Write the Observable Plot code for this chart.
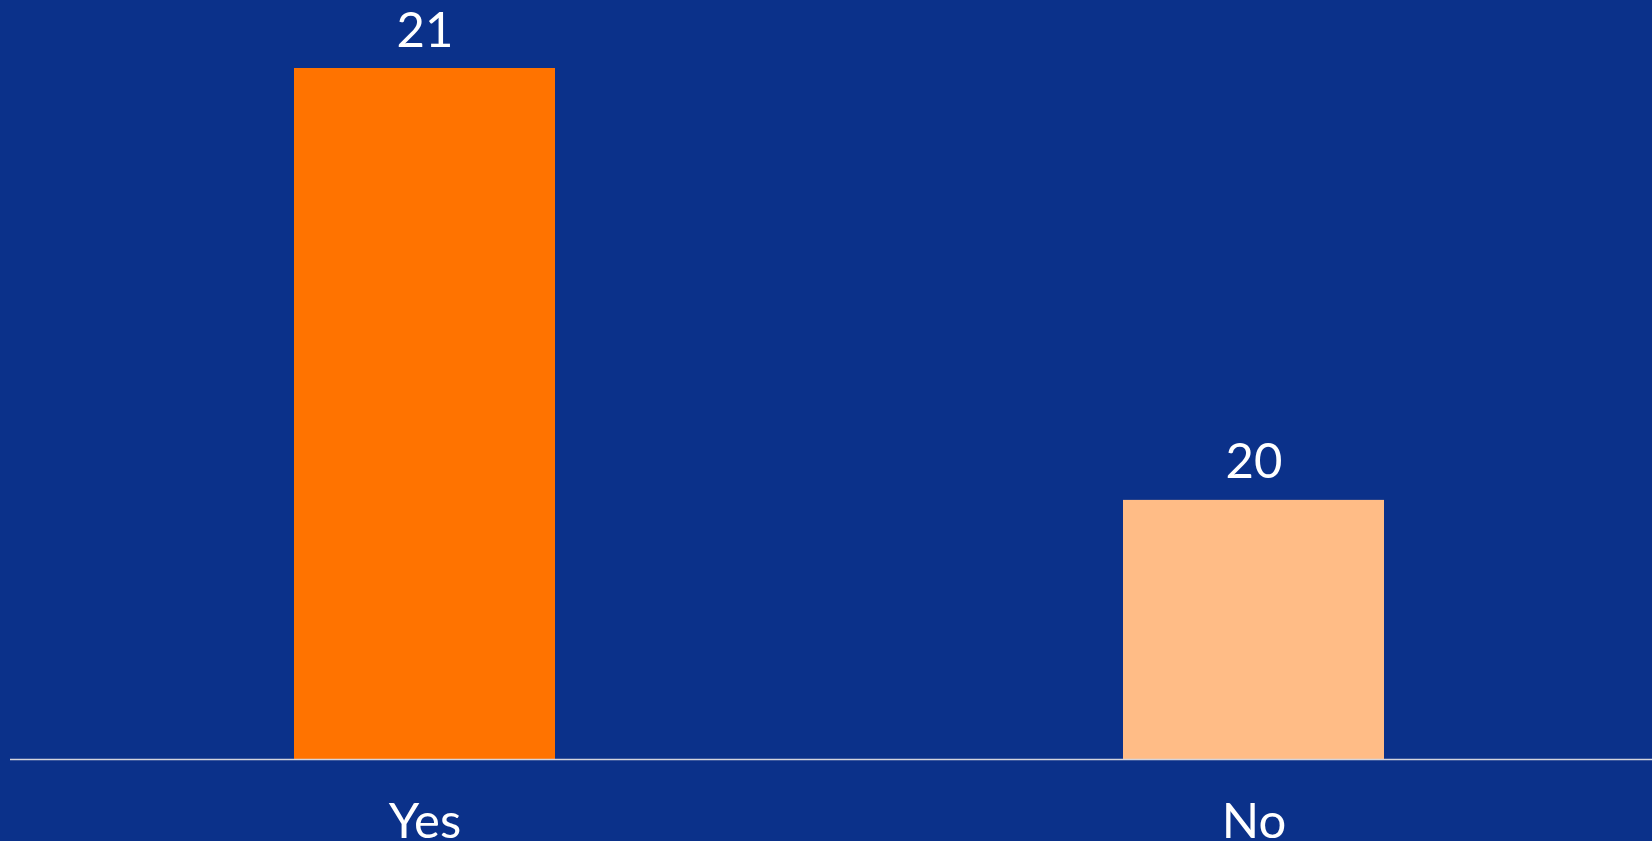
<!DOCTYPE html>
<html>
<head>
<meta charset="utf-8">
<script src="https://cdn.jsdelivr.net/npm/d3@7"></script>
<script src="https://cdn.jsdelivr.net/npm/@observablehq/plot@0.6"></script>
<style>
  html, body { margin: 0; padding: 0; background: #0B318A; overflow: hidden; }
  #chart svg { display: block; }
</style>
</head>
<body>
<div id="chart"></div>
<script>
const categories = ["Yes", "No"];
const values = [21, 20];
const colors = ["#FF7300", "#FFBC86"];
const yMin = 19.4;
const yMax = 21;

const data = categories.map((c, i) => ({ category: c, value: values[i], color: colors[i] }));

const chart = Plot.plot({
  width: 1652,
  height: 841,
  marginLeft: 10,
  marginRight: -17,
  marginTop: 68,
  marginBottom: 82,
  style: { background: "#0B318A", color: "#FFFFFF", fontFamily: "Lato, sans-serif" },
  x: { domain: categories, paddingInner: 0.685, paddingOuter: 0.342, label: null },
  y: { domain: [yMin, yMax], axis: null },
  marks: [
    Plot.barY(data, { x: "category", y1: () => yMin, y2: "value", fill: "color" }),
    Plot.ruleY([yMin], { stroke: "#D4D4DC", strokeWidth: 1.6 }),
    Plot.text(data, { x: "category", y: "value", text: d => String(d.value), dy: -22, lineAnchor: "bottom", fill: "#FFFFFF", fontSize: 49 }),
    Plot.axisX({ tickSize: 0, tickPadding: 44, fontSize: 49, color: "#FFFFFF", label: null })
  ]
});
document.getElementById("chart").appendChild(chart);
</script>
</body>
</html>
